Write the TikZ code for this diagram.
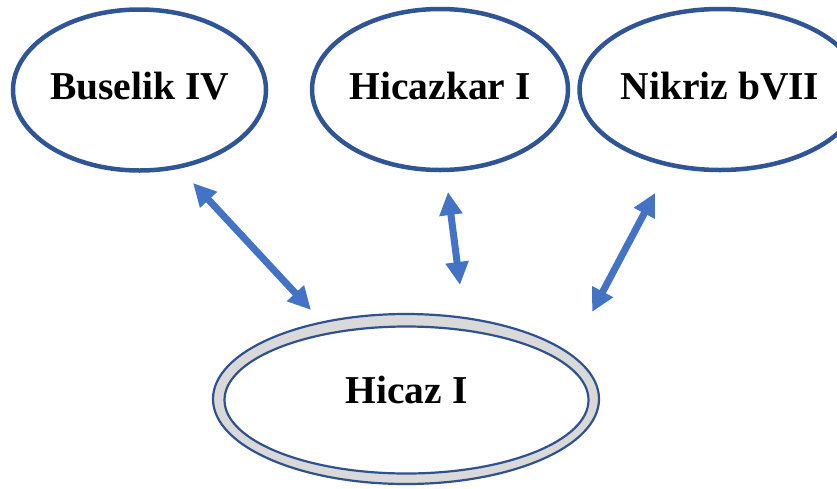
\documentclass[tikz,border=0pt]{standalone}
\usepackage{fontspec}
\setmainfont{Liberation Serif}
\usetikzlibrary{arrows.meta,shapes.geometric}
\definecolor{ringblue}{HTML}{2F5597}
\definecolor{darkring}{HTML}{2F528F}
\definecolor{arrowblue}{HTML}{4472C4}
\definecolor{bandgray}{HTML}{D9D9D9}
\tikzset{
  makam/.style={ellipse,draw=ringblue,line width=4.5pt,fill=white,minimum width=250pt,minimum height=161pt,inner sep=0pt,text depth=8pt,font=\bfseries\fontsize{39.5}{46}\selectfont},
  outerring/.style={ellipse,draw=darkring,line width=2.2pt,fill=bandgray,minimum width=386pt,minimum height=170pt,inner sep=0pt},
  innerring/.style={ellipse,draw=darkring,line width=2.2pt,fill=white,minimum width=364pt,minimum height=147pt,inner sep=0pt,text depth=20pt,font=\bfseries\fontsize{39.5}{46}\selectfont},
  dblarr/.style={{Triangle[length=23pt,width=22pt]}-{Triangle[length=23pt,width=22pt]},draw=arrowblue,line width=7pt}
}
\begin{document}
\begin{tikzpicture}[x=1pt,y=-1pt]
\useasboundingbox (0,0) rectangle (837,488);
\node[makam] (buselik) at (139.5,90) {Buselik IV};
\node[makam] (hicazkar) at (440,89.5) {Hicazkar I};
\node[makam] (nikriz) at (720,89.5) {Nikriz bVII};
\node[outerring] (hicazout) at (406,399) {};
\node[innerring] (hicaz) at (406.5,400) {Hicaz I};
\coordinate (busA) at (193,183);
\coordinate (busB) at (311,310);
\coordinate (hkrA) at (448,192);
\coordinate (hkrB) at (460,285);
\coordinate (nikA) at (655,193);
\coordinate (nikB) at (592,312);
\draw[dblarr] (busA) -- (busB);
\draw[dblarr] (hkrA) -- (hkrB);
\draw[dblarr] (nikA) -- (nikB);
\end{tikzpicture}
\end{document}
